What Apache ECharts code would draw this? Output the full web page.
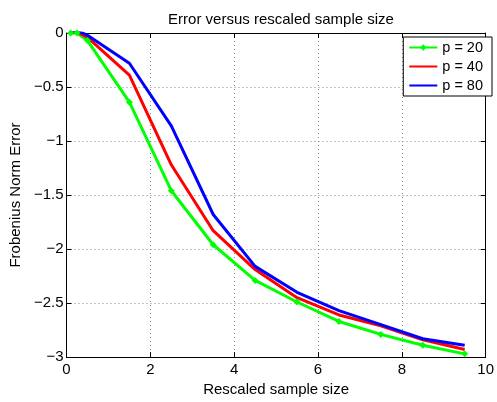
<!DOCTYPE html>
<html><head><meta charset="utf-8">
<script src="https://cdn.jsdelivr.net/npm/echarts@6/dist/echarts.min.js"></script>
<style>html,body{margin:0;padding:0;background:#fff}#c{width:497px;height:402px}</style>
</head><body><div id="c"></div>
<script>
const xs = [0.1, 0.25, 0.5, 1.5, 2.5, 3.5, 4.5, 5.5, 6.5, 7.5, 8.5, 9.5];
const p20 = [0, 0.0, -0.07, -0.64, -1.46, -1.96, -2.29, -2.49, -2.67, -2.79, -2.89, -2.97];
const p40 = [0, 0.01, -0.04, -0.39, -1.22, -1.83, -2.19, -2.45, -2.61, -2.71, -2.84, -2.93];
const p80 = [0, 0.02, -0.02, -0.28, -0.86, -1.68, -2.16, -2.40, -2.57, -2.70, -2.83, -2.89];
const names = ['p = 20', 'p = 40', 'p = 80'];
const font = 'Liberation Sans, Arial, sans-serif';
const fs = 15;
const pair = (ys) => xs.map((x, i) => [x, ys[i]]);
const chart = echarts.init(document.getElementById('c'));
const axCommon = {
  axisLine: {show: true, onZero: false, lineStyle: {color: '#000', width: 1}},
  axisTick: {show: true, inside: true, length: 5, lineStyle: {color: '#000'}},
};
const minusFmt = (v) => String(v).replace('-', '\u2212');
chart.setOption({
  animation: false,
  backgroundColor: '#fff',
  title: {text: 'Error versus rescaled sample size', left: 276, textAlign: 'center', top: 7,
    textStyle: {fontFamily: font, fontSize: fs, fontWeight: 'normal', color: '#000'}},
  grid: {left: 64, right: 9, top: 33, bottom: 37, show: false},
  legend: {
    data: [
      {name: names[0]},
      {name: names[1], itemStyle: {opacity: 0}},
      {name: names[2], itemStyle: {opacity: 0}}
    ],
    right: 5, top: 37, orient: 'vertical', itemWidth: 28, itemHeight: 8, itemGap: 4,
    backgroundColor: '#fff', borderColor: '#000', borderWidth: 1, padding: [3, 9, 3, 5],
    textStyle: {fontFamily: font, fontSize: 14.5, color: '#000'}},
  xAxis: [
    Object.assign({type: 'value', min: 0, max: 10, interval: 2, position: 'bottom',
      name: 'Rescaled sample size', nameLocation: 'middle', nameGap: 21,
      nameTextStyle: {fontFamily: font, fontSize: fs, color: '#000'},
      axisLabel: {fontFamily: font, fontSize: fs, color: '#000', margin: 5, formatter: minusFmt},
      splitLine: {show: true, lineStyle: {color: '#888', type: [1, 3]}}}, axCommon),
    Object.assign({type: 'value', min: 0, max: 10, interval: 2, position: 'top',
      axisLabel: {show: false}, splitLine: {show: false}}, axCommon)
  ],
  yAxis: [
    Object.assign({type: 'value', min: -3, max: 0, interval: 0.5, position: 'left',
      name: 'Frobenius Norm Error', nameLocation: 'middle', nameGap: 38, nameRotate: 90,
      nameTextStyle: {fontFamily: font, fontSize: fs, color: '#000'},
      axisLabel: {fontFamily: font, fontSize: fs, color: '#000', margin: 3, formatter: minusFmt},
      splitLine: {show: true, lineStyle: {color: '#888', type: [1, 3]}}}, axCommon),
    Object.assign({type: 'value', min: -3, max: 0, interval: 0.5, position: 'right',
      axisLabel: {show: false}, splitLine: {show: false}}, axCommon)
  ],
  series: [
    {name: names[0], type: 'line', data: pair(p20), color: '#00ff00', lineStyle: {width: 3},
      symbol: 'diamond', symbolSize: 7, showSymbol: true, itemStyle: {color: '#00ff00'}},
    {name: names[1], type: 'line', data: pair(p40), color: '#ff0000', lineStyle: {width: 3},
      symbol: 'none'},
    {name: names[2], type: 'line', data: pair(p80), color: '#0000ff', lineStyle: {width: 3},
      symbol: 'none'}
  ]
});
</script></body></html>
